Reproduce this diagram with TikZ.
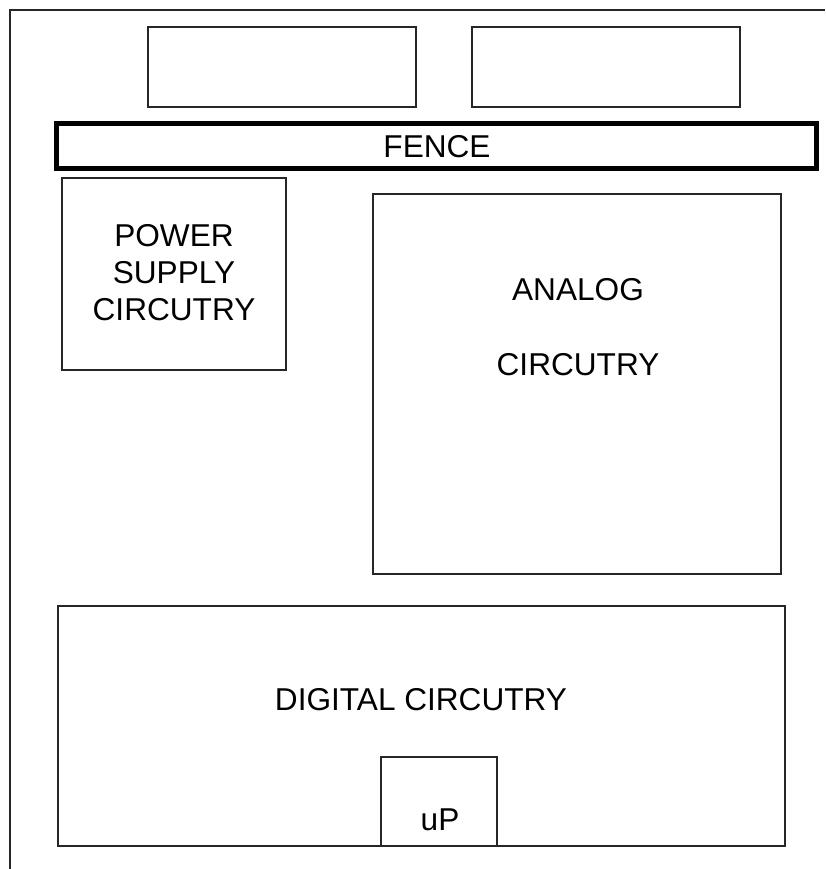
\documentclass[tikz,border=0pt]{standalone}
\usepackage{fontspec}
\setmainfont{Liberation Sans}
\begin{document}
\begin{tikzpicture}[x=1pt,y=-1pt,
  box/.style={draw=black!85,line width=1.3pt},
  fencebox/.style={draw=black,line width=5pt},
  lbl/.style={font=\fontsize{31.6}{37}\selectfont,align=center,inner sep=0pt}]
\useasboundingbox (0,0) rectangle (825,869);
\draw[line width=1.5pt,black!85] (10,869) -- (10,10) -- (825,10);
\draw[box] (148,27) rectangle (416,107) coordinate (t1);
\draw[box] (472,27) rectangle (740,107) coordinate (t2);
\draw[fencebox] (56.5,123.5) rectangle (816,168.5);
\node[lbl] (fence) at (437,147) {FENCE};
\draw[box] (62,178) rectangle (286,370);
\node[lbl] (power) at (174,273) {POWER\\SUPPLY\\CIRCUTRY};
\draw[box] (373,194) rectangle (781,574);
\node[lbl] (analog) at (578,290) {ANALOG};
\node[lbl] (analog2) at (578,365) {CIRCUTRY};
\draw[box] (58,606) rectangle (785,846);
\node[lbl] (digital) at (421,700) {DIGITAL CIRCUTRY};
\draw[box] (381,757) rectangle (497,846);
\node[lbl] (up) at (440,820) {uP};
\end{tikzpicture}
\end{document}
